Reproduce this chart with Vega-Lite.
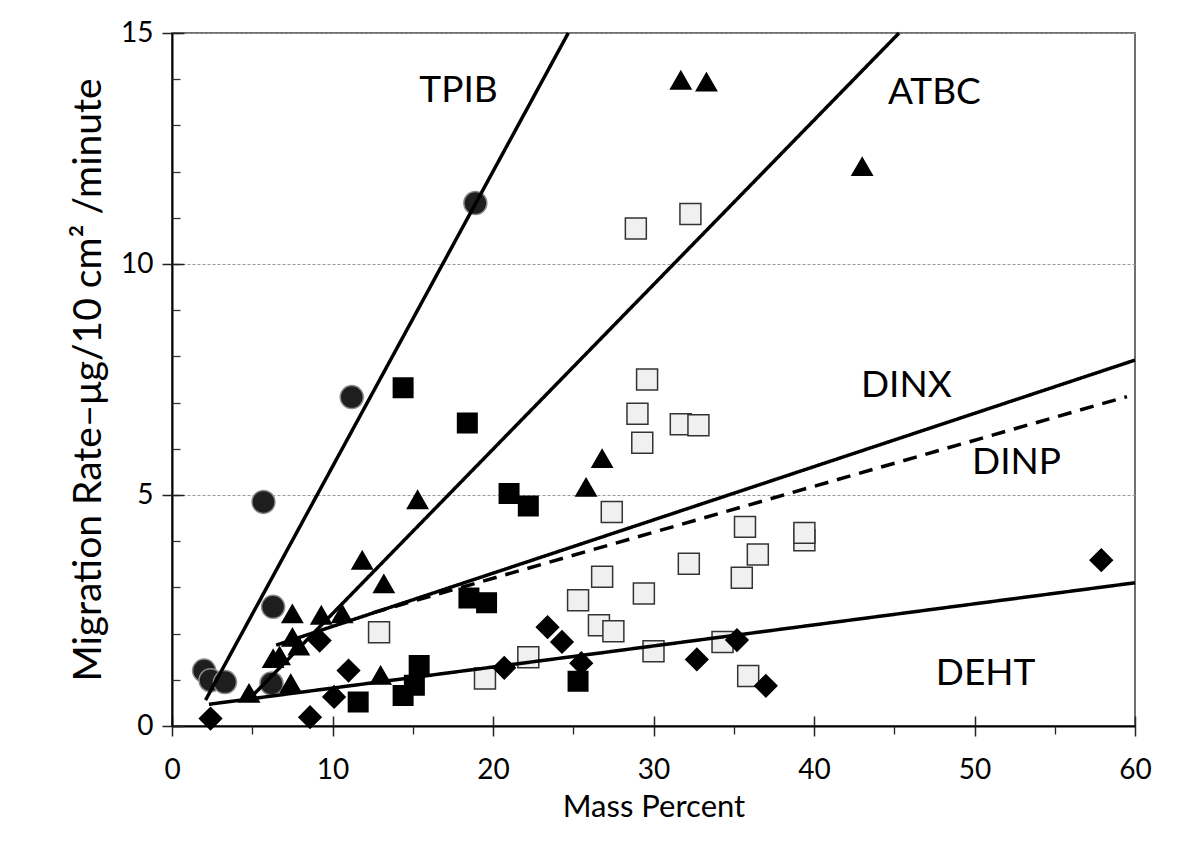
{
  "$schema": "https://vega.github.io/schema/vega-lite/v6.json",
  "width": 963,
  "height": 693,
  "autosize": {"type": "none"},
  "padding": {"left": 172, "top": 33, "right": 61, "bottom": 141},
  "background": "white",
  "config": {"view": {"stroke": "#404040", "strokeWidth": 1.5}, "font": "Lato"},
  "datasets": {
    "points": [
      {"series": "TPIB", "mass": 2.0, "rate": 1.2},
      {"series": "TPIB", "mass": 2.4, "rate": 0.99},
      {"series": "TPIB", "mass": 3.3, "rate": 0.95},
      {"series": "TPIB", "mass": 6.2, "rate": 0.92},
      {"series": "TPIB", "mass": 6.3, "rate": 2.58},
      {"series": "TPIB", "mass": 5.7, "rate": 4.85},
      {"series": "TPIB", "mass": 11.2, "rate": 7.12},
      {"series": "TPIB", "mass": 18.9, "rate": 11.32},
      {"series": "ATBC", "mass": 4.8, "rate": 0.71},
      {"series": "ATBC", "mass": 7.4, "rate": 0.92},
      {"series": "ATBC", "mass": 6.3, "rate": 1.46},
      {"series": "ATBC", "mass": 6.7, "rate": 1.52},
      {"series": "ATBC", "mass": 7.5, "rate": 1.92},
      {"series": "ATBC", "mass": 7.9, "rate": 1.73},
      {"series": "ATBC", "mass": 7.5, "rate": 2.43},
      {"series": "ATBC", "mass": 9.3, "rate": 2.4},
      {"series": "ATBC", "mass": 10.6, "rate": 2.43},
      {"series": "ATBC", "mass": 11.85, "rate": 3.59},
      {"series": "ATBC", "mass": 13.2, "rate": 3.08},
      {"series": "ATBC", "mass": 13.0, "rate": 1.1},
      {"series": "ATBC", "mass": 15.3, "rate": 4.9},
      {"series": "ATBC", "mass": 25.8, "rate": 5.17},
      {"series": "ATBC", "mass": 26.8, "rate": 5.79},
      {"series": "ATBC", "mass": 31.7, "rate": 13.98},
      {"series": "ATBC", "mass": 33.3, "rate": 13.94},
      {"series": "ATBC", "mass": 43.0, "rate": 12.11},
      {"series": "DINX", "mass": 14.4, "rate": 7.32},
      {"series": "DINX", "mass": 18.4, "rate": 6.56},
      {"series": "DINX", "mass": 21.0, "rate": 5.03},
      {"series": "DINX", "mass": 22.2, "rate": 4.76},
      {"series": "DINX", "mass": 18.5, "rate": 2.77},
      {"series": "DINX", "mass": 19.6, "rate": 2.67},
      {"series": "DINX", "mass": 25.3, "rate": 0.97},
      {"series": "DINX", "mass": 15.4, "rate": 1.31},
      {"series": "DINX", "mass": 15.1, "rate": 0.88},
      {"series": "DINX", "mass": 14.4, "rate": 0.66},
      {"series": "DINX", "mass": 11.6, "rate": 0.52},
      {"series": "DINP", "mass": 12.9, "rate": 2.03},
      {"series": "DINP", "mass": 19.5, "rate": 1.03},
      {"series": "DINP", "mass": 22.2, "rate": 1.49},
      {"series": "DINP", "mass": 27.4, "rate": 4.63},
      {"series": "DINP", "mass": 26.8, "rate": 3.23},
      {"series": "DINP", "mass": 25.3, "rate": 2.72},
      {"series": "DINP", "mass": 26.6, "rate": 2.18},
      {"series": "DINP", "mass": 27.5, "rate": 2.05},
      {"series": "DINP", "mass": 29.4, "rate": 2.87},
      {"series": "DINP", "mass": 32.2, "rate": 3.51},
      {"series": "DINP", "mass": 30.0, "rate": 1.62},
      {"series": "DINP", "mass": 35.7, "rate": 4.31},
      {"series": "DINP", "mass": 36.5, "rate": 3.71},
      {"series": "DINP", "mass": 35.5, "rate": 3.21},
      {"series": "DINP", "mass": 34.3, "rate": 1.82},
      {"series": "DINP", "mass": 35.9, "rate": 1.08},
      {"series": "DINP", "mass": 39.4, "rate": 4.02},
      {"series": "DINP", "mass": 39.4, "rate": 4.18},
      {"series": "DINP", "mass": 28.9, "rate": 10.77},
      {"series": "DINP", "mass": 32.3, "rate": 11.08},
      {"series": "DINP", "mass": 29.6, "rate": 7.5},
      {"series": "DINP", "mass": 29.0, "rate": 6.76},
      {"series": "DINP", "mass": 29.3, "rate": 6.13},
      {"series": "DINP", "mass": 31.7, "rate": 6.53},
      {"series": "DINP", "mass": 32.8, "rate": 6.51},
      {"series": "DEHT", "mass": 2.4, "rate": 0.16},
      {"series": "DEHT", "mass": 8.6, "rate": 0.19},
      {"series": "DEHT", "mass": 9.2, "rate": 1.85},
      {"series": "DEHT", "mass": 11.0, "rate": 1.2},
      {"series": "DEHT", "mass": 10.1, "rate": 0.63},
      {"series": "DEHT", "mass": 20.7, "rate": 1.26},
      {"series": "DEHT", "mass": 23.4, "rate": 2.14},
      {"series": "DEHT", "mass": 24.3, "rate": 1.82},
      {"series": "DEHT", "mass": 25.5, "rate": 1.36},
      {"series": "DEHT", "mass": 32.7, "rate": 1.44},
      {"series": "DEHT", "mass": 35.2, "rate": 1.86},
      {"series": "DEHT", "mass": 37.0, "rate": 0.87},
      {"series": "DEHT", "mass": 57.9, "rate": 3.59}
    ],
    "lines": [
      {"series": "TPIB", "dash": "solid", "mass": 2.09, "rate": 0.56},
      {"series": "TPIB", "dash": "solid", "mass": 24.69, "rate": 15},
      {"series": "ATBC", "dash": "solid", "mass": 4.83, "rate": 0.59},
      {"series": "ATBC", "dash": "solid", "mass": 45.3, "rate": 15},
      {"series": "DINX", "dash": "solid", "mass": 6.49, "rate": 1.75},
      {"series": "DINX", "dash": "solid", "mass": 60, "rate": 7.92},
      {"series": "DINP", "dash": "dashed", "mass": 12.5, "rate": 2.45},
      {"series": "DINP", "dash": "dashed", "mass": 59.5, "rate": 7.13},
      {"series": "DEHT", "dash": "solid", "mass": 2.3, "rate": 0.47},
      {"series": "DEHT", "dash": "solid", "mass": 60, "rate": 3.1}
    ],
    "labels": [
      {"label": "TPIB", "mass": 17.85, "rate": 13.75},
      {"label": "ATBC", "mass": 47.5, "rate": 13.71},
      {"label": "DINX", "mass": 45.75, "rate": 7.37},
      {"label": "DINP", "mass": 52.62, "rate": 5.7},
      {"label": "DEHT", "mass": 50.69, "rate": 1.12}
    ]
  },
  "resolve": {"axis": {"x": "independent", "y": "independent"}},
  "layer": [
    {
      "data": {"name": "points"},
      "mark": {"type": "point", "filled": true, "opacity": 1, "strokeWidth": 1.5},
      "encoding": {
        "x": {
          "field": "mass", "type": "quantitative",
          "scale": {"domain": [0, 60], "nice": false},
          "axis": {
            "orient": "bottom", "values": [0, 10, 20, 30, 40, 50, 60],
            "tickSize": 10, "tickColor": "#222", "tickWidth": 1.5,
            "domainColor": "#000", "domainWidth": 2,
            "labelFont": "Lato", "labelFontSize": 28, "labelColor": "#000", "labelPadding": 20,
            "labelFlush": false, "labelOverlap": false, "grid": false,
            "title": "Mass Percent", "titleFont": "Lato", "titleFontSize": 31, "titleFontWeight": "normal",
            "titleColor": "#000", "titleBaseline": "alphabetic", "titleY": 90
          }
        },
        "y": {
          "field": "rate", "type": "quantitative",
          "scale": {"domain": [0, 15], "nice": false},
          "axis": {
            "orient": "left", "values": [0, 5, 10, 15],
            "tickSize": 10, "tickColor": "#222", "tickWidth": 1.5,
            "domainColor": "#000", "domainWidth": 2,
            "labelFont": "Lato", "labelFontSize": 28, "labelColor": "#000", "labelPadding": 9,
            "labelOverlap": false, "labelFlush": false,
            "grid": true, "gridColor": "#999", "gridDash": [3, 2], "gridWidth": 1,
            "title": "Migration Rate–μg/10 cm² /minute", "titleFont": "Lato", "titleFontSize": 39,
            "titleFontWeight": "normal", "titleColor": "#000", "titleBaseline": "alphabetic",
            "titleAngle": -90, "titleX": -72, "titleY": 346.5, "titleAlign": "center"
          }
        },
        "shape": {
          "field": "series", "type": "nominal",
          "scale": {"domain": ["TPIB", "ATBC", "DINX", "DINP", "DEHT"], "range": ["circle", "triangle-up", "square", "square", "diamond"]},
          "legend": null
        },
        "fill": {
          "field": "series", "type": "nominal",
          "scale": {"domain": ["TPIB", "ATBC", "DINX", "DINP", "DEHT"], "range": ["#1e1e1e", "#000000", "#000000", "#f0f0f0", "#000000"]},
          "legend": null
        },
        "stroke": {
          "field": "series", "type": "nominal",
          "scale": {"domain": ["TPIB", "ATBC", "DINX", "DINP", "DEHT"], "range": ["#8a8a8a", "#000000", "#000000", "#333333", "#000000"]},
          "legend": null
        },
        "size": {
          "field": "series", "type": "nominal",
          "scale": {"type": "ordinal", "domain": ["TPIB", "ATBC", "DINX", "DINP", "DEHT"], "range": [530, 410, 380, 440, 490]},
          "legend": null
        }
      }
    },
    {
      "data": {"name": "lines"},
      "mark": {"type": "line", "color": "#000", "strokeWidth": 3.5},
      "encoding": {
        "x": {
          "field": "mass", "type": "quantitative",
          "scale": {"domain": [0, 60], "nice": false},
          "axis": {
            "orient": "bottom", "values": [0, 10, 20, 30, 40, 50, 60],
            "tickSize": -10, "tickColor": "#222", "tickWidth": 1.5,
            "labels": false, "domain": false, "grid": false, "title": null
          }
        },
        "y": {
          "field": "rate", "type": "quantitative",
          "scale": {"domain": [0, 15], "nice": false},
          "axis": {
            "orient": "left", "values": [0, 1, 2, 3, 4, 5, 6, 7, 8, 9, 10, 11, 12, 13, 14, 15],
            "tickSize": -8, "tickColor": "#333", "tickWidth": 1.3,
            "labels": false, "domain": false, "grid": false, "title": null
          }
        },
        "detail": {"field": "series", "type": "nominal"},
        "strokeDash": {
          "field": "dash", "type": "nominal",
          "scale": {"domain": ["solid", "dashed"], "range": [[1, 0], [14, 9]]},
          "legend": null
        }
      }
    },
    {
      "data": {"name": "labels"},
      "mark": {"type": "text", "font": "Lato", "fontSize": 37, "color": "#000", "align": "center", "baseline": "middle"},
      "encoding": {
        "x": {
          "field": "mass", "type": "quantitative",
          "scale": {"domain": [0, 60], "nice": false},
          "axis": {
            "orient": "bottom", "values": [5, 15, 25, 35, 45, 55],
            "tickSize": 8, "tickColor": "#222", "tickWidth": 1.3,
            "labels": false, "domain": false, "grid": false, "title": null
          }
        },
        "y": {
          "field": "rate", "type": "quantitative",
          "scale": {"domain": [0, 15], "nice": false},
          "axis": {
            "orient": "left", "values": [0, 5, 10, 15],
            "tickSize": -12, "tickColor": "#222", "tickWidth": 1.5,
            "labels": false, "domain": false, "grid": false, "title": null
          }
        },
        "text": {"field": "label", "type": "nominal"}
      }
    }
  ]
}
